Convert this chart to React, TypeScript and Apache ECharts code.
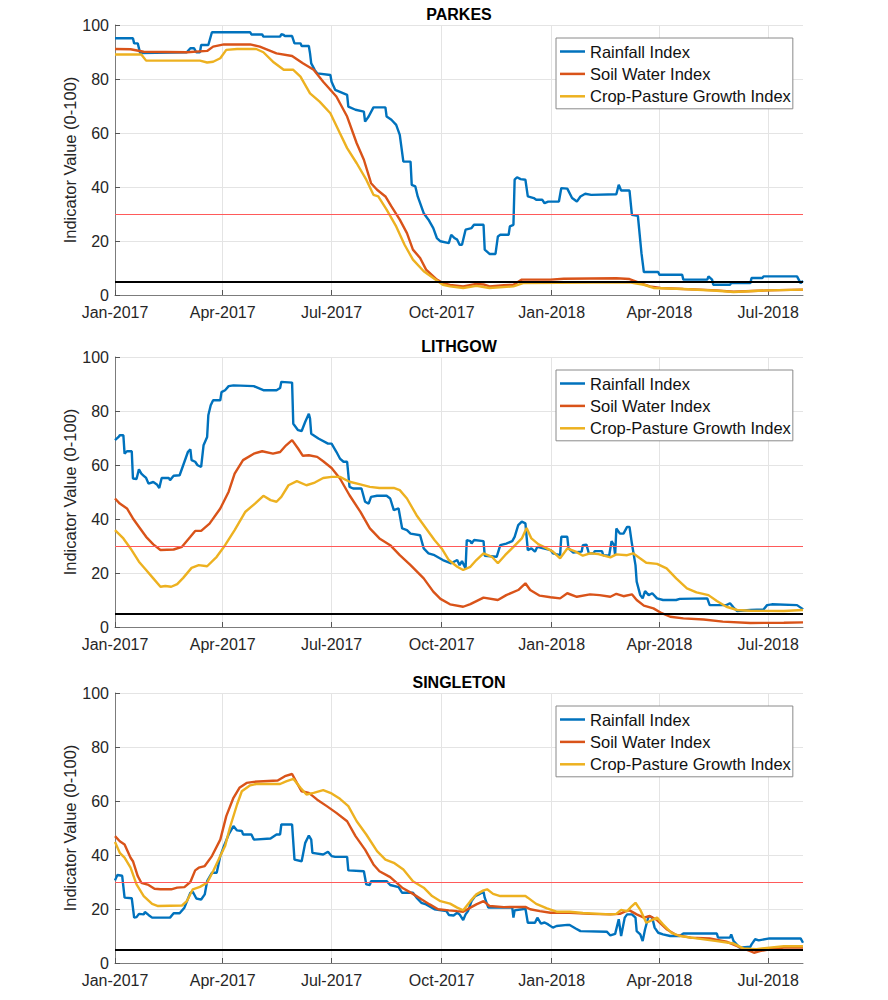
import React, { useEffect, useRef } from "react";
import * as echarts from "echarts";

// Time base: day offsets are counted from 1 Jan 2017
const DAY = 86400000;
const START = Date.UTC(2017, 0, 1);
const LAST_DAY = 575;

const stations = ["PARKES", "LITHGOW", "SINGLETON"];
const seriesNames = ["Rainfall Index", "Soil Water Index", "Crop-Pasture Growth Index"];
const seriesColors = ["#0072BD", "#D95319", "#EDB120"];
const monthNames = ["Jan", "Feb", "Mar", "Apr", "May", "Jun", "Jul", "Aug", "Sep", "Oct", "Nov", "Dec"];
const quarterTicks: [number, number][] = [
  [2017, 0], [2017, 3], [2017, 6], [2017, 9], [2018, 0], [2018, 3], [2018, 6],
];
const yMin = 0;
const yMax = 100;
const yStep = 20;
const watchLevel = 30;
const droughtLevel = 5;

// [day offset, index value]
const parkesRain = [
  [0, 95.1], [15, 95.1], [16, 93.2], [19, 93.2], [21, 89.6], [60, 89.9], [63, 91.4], [66, 91.4], [68, 89.9],
  [71, 89.9], [72, 92.6], [78, 92.6], [81, 97.3], [113, 97.3], [114, 96.5], [123, 96.5], [124, 95.7],
  [138, 95.7], [139, 96.6], [141, 96.3], [142, 95.9], [148, 95.9], [150, 93.2], [155, 93.2], [156, 92.2],
  [162, 92.2], [163, 89.5], [164, 85.8], [167, 83.3], [169, 82.1], [180, 81.5], [181, 79], [184, 76],
  [194, 74.1], [195, 69.8], [201, 68.6], [208, 67.9], [209, 64.2], [212, 66.1], [216, 69.5], [226, 69.5],
  [227, 66.1], [231, 64.9], [235, 63], [238, 59.3], [241, 49.4], [247, 49.4], [248, 40.8], [251, 40.2],
  [253, 36.5], [258, 30.3], [262, 27.9], [266, 24.8], [269, 21.1], [272, 19.9], [279, 19.2], [281, 22.3],
  [284, 21.0], [286, 20.5], [288, 18.6], [290, 18.6], [293, 24.2], [298, 24.8], [300, 26], [308, 26],
  [309, 16.8], [313, 15.2], [318, 15.2], [320, 21.7], [322, 22.3], [329, 22.3], [330, 25.4], [333, 26],
  [334, 42.7], [336, 43.6], [339, 42.9], [343, 42.7], [345, 36.5], [350, 35.9], [352, 35.3], [357, 35.3],
  [359, 34], [362, 34.6], [371, 34.6], [373, 39.6], [378, 39.4], [382, 35.9], [386, 34.6], [389, 36.5],
  [393, 37.5], [398, 37.1], [419, 37.3], [421, 40.8], [423, 38.7], [430, 38.7], [432, 29.7], [437, 29.3],
  [440, 15.5], [442, 8.5], [454, 8.5], [455, 7.5], [474, 7.5], [475, 5.7], [495, 5.7], [496, 6.9],
  [499, 5.7], [500, 3.8], [514, 3.8], [515, 4.4], [531, 4.4], [532, 6.3], [541, 6.3], [542, 6.9],
  [570, 6.9], [573, 4.4], [575, 5.2],
];
const parkesSoil = [
  [0, 91.1], [13, 91], [24, 90.1], [60, 89.9], [77, 90.4], [82, 92], [91, 92.8], [113, 92.8], [121, 92],
  [135, 89.5], [148, 88.5], [157, 85.8], [166, 83.4], [174, 79], [185, 73.5], [194, 66.1], [202, 56.2],
  [208, 50.1], [214, 41.4], [219, 39], [226, 36.5], [231, 32.8], [238, 27.9], [244, 22.9], [249, 16.8],
  [255, 13.7], [260, 9.4], [269, 5.7], [274, 4.4], [280, 3.7], [291, 3.2], [302, 4.1], [308, 3.9],
  [313, 3.2], [325, 3.6], [333, 3.8], [340, 5.7], [364, 5.7], [375, 6.0], [419, 6.2], [430, 5.9],
  [439, 4.4], [447, 3.2], [456, 2.6], [475, 2.2], [503, 1.7], [517, 1.2], [545, 1.7], [575, 2.0],
];
const parkesCrop = [
  [0, 89.1], [22, 89.1], [26, 86.8], [71, 86.8], [77, 86.1], [82, 86.4], [88, 87.7], [93, 90.8], [102, 91.1],
  [118, 91.1], [124, 89.9], [132, 86.4], [141, 83.4], [149, 83.4], [155, 80.9], [163, 74.7], [171, 71.6],
  [180, 67.3], [188, 59.9], [194, 54.4], [202, 48.8], [210, 42.7], [216, 37.1], [220, 36.5], [227, 31.6],
  [235, 25.4], [242, 18.6], [249, 13.1], [258, 8.8], [266, 6.3], [274, 3.8], [280, 3.2], [291, 2.6],
  [302, 3.4], [313, 2.6], [333, 3.2], [341, 4.4], [430, 4.7], [442, 3.8], [450, 2.6], [475, 2.2],
  [503, 1.6], [517, 1.1], [545, 1.7], [575, 2.0],
];

const lithgowRain = [
  [0, 69.2], [3, 70.4], [4, 71], [7, 71], [8, 64.2], [10, 65.1], [14, 65.1], [15, 55], [18, 54.8], [20, 58.4],
  [22, 56.8], [24, 56], [26, 55.2], [28, 53.1], [32, 53.7], [35, 52.8], [37, 51.5], [39, 55.2], [45, 55.2],
  [46, 54.4], [49, 56], [54, 56.2], [57, 59.9], [61, 64.9], [63, 65.8], [64, 61.8], [67, 61.2], [69, 59.9],
  [72, 59.3], [74, 67.3], [77, 70.4], [78, 78.4], [80, 82.1], [82, 84], [88, 84], [89, 87], [92, 87.7],
  [95, 89.2], [99, 89.5], [116, 89.2], [124, 87.7], [135, 87.7], [138, 88.5], [139, 90.8], [148, 90.5],
  [149, 75.3], [153, 72.9], [156, 72.6], [159, 76], [162, 79], [163, 77.2], [164, 71.6], [170, 69.8],
  [178, 67.9], [181, 67.9], [185, 64.9], [188, 62.4], [191, 61.2], [194, 61.2], [196, 51.9], [199, 51.3],
  [206, 51.3], [209, 46.4], [212, 45.7], [214, 48.2], [219, 48.6], [227, 48.6], [230, 47.6], [233, 43.3],
  [237, 43.9], [240, 36.5], [244, 35.9], [247, 34.6], [255, 34], [258, 29.1], [262, 27.3], [267, 26.6],
  [274, 24.8], [281, 23.6], [286, 24.8], [288, 22.9], [290, 24.4], [293, 21.7], [294, 32.2], [297, 31.8],
  [298, 30.9], [300, 32.2], [308, 31.8], [309, 26.4], [319, 26], [322, 30.3], [327, 30.9], [332, 31.8],
  [334, 33.4], [337, 37.7], [340, 39], [343, 38.4], [345, 28.5], [348, 29.1], [351, 27.9], [353, 29.7],
  [358, 29.1], [364, 28.5], [366, 27.3], [372, 26.6], [373, 33.4], [378, 33.4], [379, 29.1], [383, 27.6],
  [390, 27.9], [391, 30.3], [394, 30.5], [396, 27.3], [400, 27.3], [401, 28.1], [407, 28.1], [408, 26.6],
  [413, 26.4], [415, 31.8], [417, 30.3], [418, 26.6], [419, 36.5], [422, 34.6], [425, 34.6], [428, 37.1],
  [430, 37.1], [432, 30.9], [435, 22.9], [436, 16.8], [439, 11.8], [441, 10.6], [443, 13.3], [446, 11.8],
  [449, 12.5], [453, 10.6], [458, 10], [469, 10], [472, 10.4], [495, 10.6], [497, 8.1], [511, 8.1],
  [514, 8.8], [517, 7.2], [520, 5.9], [531, 6.3], [542, 6.5], [545, 8.1], [549, 8.4], [570, 8.1],
  [574, 6.9], [575, 6.5],
];
const lithgowSoil = [
  [0, 47.6], [4, 45.7], [10, 43.9], [15, 40.2], [21, 36.5], [26, 33.4], [32, 30.6], [38, 28.5], [49, 28.7],
  [56, 29.7], [63, 33.4], [67, 35.6], [72, 35.6], [79, 38.3], [88, 43.9], [95, 50.1], [100, 56.8], [107, 61.8],
  [116, 64.2], [123, 65.1], [132, 64.2], [138, 64.8], [143, 67.3], [148, 69.2], [153, 66.1], [157, 63.4],
  [162, 63.6], [169, 63], [174, 61.4], [181, 58.9], [188, 55], [196, 48.8], [205, 42.7], [213, 36.5],
  [221, 32.8], [230, 30.3], [238, 26.6], [247, 22.9], [258, 18], [266, 13.1], [272, 10.4], [280, 8.4],
  [291, 7.5], [297, 8.5], [308, 10.9], [320, 10], [327, 11.8], [337, 13.7], [343, 16.2], [347, 13.7],
  [355, 11.6], [364, 11], [372, 10.6], [378, 12.5], [386, 11.2], [397, 12.1], [405, 11.8], [414, 11.2],
  [419, 12.3], [425, 11.4], [432, 12.1], [436, 10], [442, 7.9], [450, 6.9], [457, 5.1], [464, 3.8],
  [475, 3.2], [492, 2.8], [508, 2.0], [531, 1.5], [559, 1.6], [575, 1.7],
];
const lithgowCrop = [
  [0, 35.9], [7, 32.8], [13, 29.1], [20, 24.2], [26, 21.1], [32, 18], [38, 14.9], [42, 15.2], [47, 14.9],
  [52, 15.9], [57, 18.2], [64, 21.9], [70, 22.9], [77, 22.5], [85, 26], [92, 30.3], [100, 35.9], [109, 42.7],
  [117, 45.7], [124, 48.6], [130, 47], [135, 46.4], [139, 48.2], [145, 52.5], [152, 54], [160, 52.5],
  [167, 53.5], [174, 55.2], [181, 55.6], [188, 55.6], [196, 53.8], [205, 52.8], [213, 51.9], [221, 51.5],
  [233, 51.5], [238, 50.7], [244, 47.6], [252, 41.4], [260, 36.5], [267, 32.2], [273, 29.1], [279, 24.8],
  [286, 22.3], [291, 21.1], [297, 22.3], [302, 24.8], [308, 27.3], [315, 26], [320, 23.6], [326, 26.6],
  [333, 29.7], [340, 32.8], [344, 36.7], [348, 32.8], [354, 30.6], [361, 29.1], [366, 27.9], [372, 25.4],
  [378, 29.1], [385, 27.9], [391, 26.4], [397, 27.3], [404, 27], [414, 25.8], [419, 26.9], [428, 26.6],
  [433, 27.3], [439, 25.4], [444, 23.8], [453, 23.4], [461, 21.7], [469, 18], [478, 14.3], [486, 12.8],
  [496, 11.8], [503, 9.6], [511, 7.5], [520, 6.3], [531, 6], [559, 5.9], [575, 6.3],
];

const singletonRain = [
  [0, 30.6], [2, 32.6], [6, 32.3], [8, 24.2], [14, 24], [16, 16.8], [18, 17], [20, 18.2], [24, 18], [25, 18.9],
  [28, 17.8], [31, 16.8], [46, 16.8], [49, 18.4], [54, 18.4], [58, 20.5], [63, 26], [65, 26.4], [68, 23.9],
  [72, 23.5], [75, 25.4], [77, 30.3], [81, 33.4], [85, 33.4], [88, 39.6], [91, 43.3], [95, 47.6], [99, 50.7],
  [102, 49.1], [106, 48.9], [107, 47.6], [114, 47.6], [116, 45.7], [130, 46.1], [135, 47.6], [138, 47.6],
  [139, 51.3], [148, 51.3], [150, 38.3], [156, 37.7], [159, 44.5], [162, 47.2], [164, 45.7], [165, 40.8],
  [174, 40.2], [178, 41.2], [181, 39.6], [184, 39.3], [194, 39.3], [195, 34.3], [208, 34], [210, 29.1],
  [213, 28.9], [214, 30.3], [227, 30.3], [230, 28.9], [237, 28.1], [240, 26], [249, 26], [252, 24.2],
  [256, 22.3], [260, 21.7], [267, 19.9], [277, 19.2], [279, 17.8], [283, 17.6], [286, 18.6], [288, 18],
  [291, 15.9], [293, 18], [295, 19.2], [298, 22.9], [301, 24.8], [304, 25.4], [308, 26.4], [309, 24.2],
  [312, 20.5], [332, 20.5], [333, 16.8], [334, 19.5], [340, 19.9], [343, 20.2], [345, 14.9], [351, 14.9],
  [353, 16.8], [356, 14.6], [359, 15], [362, 14.3], [366, 13.1], [369, 13.7], [378, 14.1], [380, 14.1],
  [385, 12.8], [389, 11.8], [411, 11.6], [414, 10.2], [418, 10.8], [421, 16.2], [423, 10], [426, 16.8],
  [428, 18], [432, 18], [435, 16.8], [436, 11.8], [439, 10.6], [441, 8.1], [443, 12.5], [446, 17.4],
  [449, 16.8], [451, 13.1], [454, 11.2], [458, 10.6], [464, 10], [472, 10], [475, 10.9], [503, 10.9],
  [504, 9.4], [514, 9.4], [515, 10.6], [517, 8.1], [522, 5.7], [531, 6], [532, 6.9], [535, 8.8], [538, 8.4],
  [547, 9.1], [573, 9.1], [575, 7.5],
];
const singletonSoil = [
  [0, 47], [4, 45.1], [8, 43.9], [13, 39], [15, 37.7], [19, 32.2], [22, 29.7], [28, 28.9], [33, 27.5], [38, 27.3],
  [47, 27.3], [52, 27.9], [58, 28.1], [63, 30], [67, 34.3], [70, 35.3], [75, 35.9], [81, 39.6], [88, 45.7],
  [93, 54.4], [99, 61.2], [104, 64.9], [110, 66.7], [116, 67.1], [136, 67.6], [142, 69.2], [148, 70],
  [152, 66.7], [156, 63.6], [162, 63], [169, 60.5], [177, 58.1], [185, 55.6], [194, 52.5], [201, 47],
  [209, 42], [216, 36.5], [221, 34], [230, 31.8], [240, 27.9], [249, 25.6], [256, 23.6], [263, 21.7],
  [270, 19.9], [279, 19.5], [286, 19.2], [291, 19], [297, 20.5], [302, 21.7], [308, 22.9], [313, 21.1],
  [325, 20.7], [343, 20.8], [347, 19.9], [355, 19.2], [364, 18.6], [380, 18.6], [397, 18.2], [414, 18],
  [422, 18.2], [426, 19], [430, 19.5], [436, 18], [442, 16.8], [447, 17.4], [453, 15.9], [461, 12.5],
  [469, 10.4], [481, 9.4], [497, 9.1], [511, 7.9], [522, 5.9], [531, 4.4], [534, 3.8], [539, 4.4],
  [547, 5.1], [559, 5.7], [575, 5.7],
];
const singletonCrop = [
  [0, 44.8], [4, 40.8], [8, 39], [13, 35.3], [18, 29.1], [24, 24.8], [31, 21.9], [36, 21.1], [56, 21.3],
  [60, 22.9], [65, 27.3], [71, 28.2], [77, 29.7], [82, 34], [88, 39.6], [92, 43.3], [96, 50.1], [102, 58.7],
  [106, 63.6], [113, 65.8], [118, 66.3], [138, 66.3], [143, 67.3], [149, 68.2], [155, 64.9], [160, 62.4],
  [166, 63], [174, 64], [181, 62.8], [188, 60.8], [195, 58.1], [202, 52.5], [210, 47.6], [219, 41.4],
  [226, 38.3], [233, 37.1], [241, 34.6], [249, 30.3], [258, 27.9], [265, 24.8], [272, 22.9], [280, 22.0],
  [286, 20.5], [291, 19.5], [297, 22.9], [302, 25.4], [308, 26.9], [311, 27.3], [316, 25.6], [322, 24.8],
  [343, 24.8], [345, 24.2], [352, 21.9], [361, 20.2], [369, 19], [380, 19], [391, 18.5], [414, 18],
  [419, 18.2], [423, 19.7], [428, 19.2], [432, 21.1], [435, 22.3], [439, 19.7], [444, 14.9], [447, 15.5],
  [453, 16.8], [458, 14.3], [465, 11.2], [472, 10], [486, 9.1], [503, 8.1], [517, 7.2], [525, 5.4],
  [536, 5.1], [547, 5.7], [559, 6.2], [575, 6.2],
];

const stationSeries = [
  [parkesRain, parkesSoil, parkesCrop],
  [lithgowRain, lithgowSoil, lithgowCrop],
  [singletonRain, singletonSoil, singletonCrop],
];

// Panel geometry (pixels)
const panelTops = [25, 357, 693];
const panelHeight = 270;
const panelLeft = 115;
const panelRight = 85;
const FONT = "'Liberation Sans', Arial, Helvetica, sans-serif";

// Quarter starts expressed as day offsets on the x axis
const quarterDays = quarterTicks.map(([y, m]) => Math.round((Date.UTC(y, m, 1) - START) / DAY));
const formatDay = (d: number) => {
  const dt = new Date(START + Math.round(d) * DAY);
  return `${monthNames[dt.getUTCMonth()]}-${dt.getUTCFullYear()}`;
};

function buildOption() {
  const grid: any[] = [];
  const xAxis: any[] = [];
  const yAxis: any[] = [];
  const series: any[] = [];
  const title: any[] = [];
  const legend: any[] = [];

  stations.forEach((station, i) => {
    const top = panelTops[i];
    grid.push({ left: panelLeft, right: panelRight, top, height: panelHeight, containLabel: false });
    title.push({
      text: station,
      left: 459,
      top: top - 19,
      padding: 0,
      textAlign: "center",
      textStyle: { fontFamily: FONT, fontSize: 16, fontWeight: "bold", color: "#000" },
    });
    legend.push({
      orient: "vertical",
      left: 556,
      top: top + 13,
      data: seriesNames,
      icon: "rect",
      itemWidth: 25,
      itemHeight: 2.5,
      itemGap: 5.4,
      padding: [5, 2, 4, 4],
      borderColor: "#8a8a8a",
      borderWidth: 1,
      backgroundColor: "#fff",
      selectedMode: false,
      textStyle: { fontFamily: FONT, fontSize: 16.5, color: "#111", lineHeight: 16 },
    });
    xAxis.push({
      type: "value",
      gridIndex: i,
      min: 0,
      max: LAST_DAY,
      axisLine: { show: true, onZero: false, lineStyle: { color: "#7c7c7c", width: 1 } },
      axisTick: { show: true, inside: true, length: 5, customValues: quarterDays, lineStyle: { color: "#555" } },
      axisLabel: {
        customValues: quarterDays,
        formatter: (v: number) => formatDay(v),
        fontFamily: FONT,
        fontSize: 16,
        color: "#262626",
        margin: 9,
      },
      splitLine: { show: true, lineStyle: { color: "#e4e4e4", width: 1 } },
    });
    yAxis.push({
      type: "value",
      gridIndex: i,
      min: yMin,
      max: yMax,
      interval: yStep,
      name: "Indicator Value (0-100)",
      nameLocation: "middle",
      nameGap: 37,
      nameMoveOverlap: false,
      nameTextStyle: { fontFamily: FONT, fontSize: 16.5, color: "#262626" },
      axisLine: { show: true, lineStyle: { color: "#7c7c7c", width: 1 } },
      axisTick: { show: true, inside: true, length: 5, lineStyle: { color: "#555" } },
      axisLabel: { fontFamily: FONT, fontSize: 16, color: "#262626", margin: 6 },
      splitLine: { show: true, lineStyle: { color: "#e4e4e4", width: 1 } },
    });
    stationSeries[i].forEach((values, k) => {
      series.push({
        type: "line",
        name: seriesNames[k],
        xAxisIndex: i,
        yAxisIndex: i,
        data: values,
        showSymbol: false,
        symbol: "none",
        color: seriesColors[k],
        lineStyle: { width: 2.4, color: seriesColors[k] },
        emphasis: { disabled: true },
      });
    });
    // Threshold lines for this station
    series.push({
      type: "line",
      xAxisIndex: i,
      yAxisIndex: i,
      data: [],
      silent: true,
      markLine: {
        symbol: "none",
        silent: true,
        label: { show: false },
        emphasis: { disabled: true },
        data: [
          { yAxis: watchLevel, lineStyle: { color: "#ff5a5a", width: 1, type: "solid" } },
          { yAxis: droughtLevel, lineStyle: { color: "#000", width: 2, type: "solid" } },
        ],
      },
    });
  });

  return {
    animation: false,
    backgroundColor: "#fff",
    textStyle: { fontFamily: FONT },
    title,
    legend,
    grid,
    xAxis,
    yAxis,
    series,
  };
}

export default function App() {
  const ref = useRef<HTMLDivElement>(null);
  useEffect(() => {
    if (!ref.current) return;
    const chart = echarts.init(ref.current, undefined, { renderer: "svg" });
    chart.setOption(buildOption());
    return () => chart.dispose();
  }, []);
  return (
    <div
      ref={ref}
      style={{ position: "absolute", left: 0, top: 0, width: 888, height: 1000, background: "#fff" }}
    />
  );
}
